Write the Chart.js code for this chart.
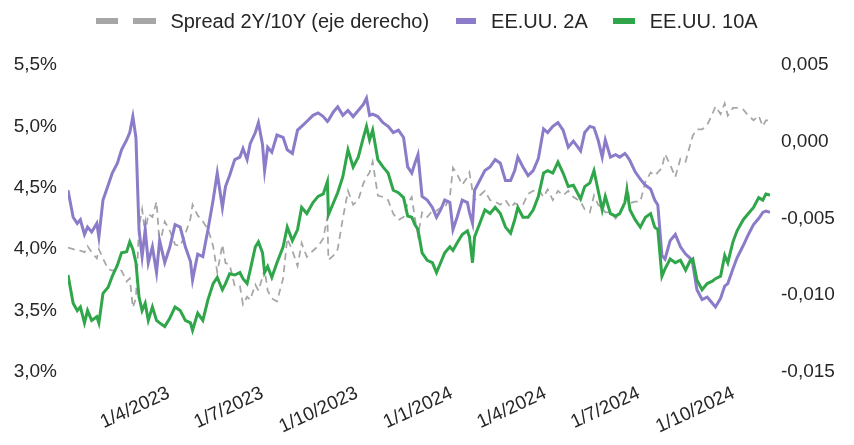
<!DOCTYPE html>
<html>
<head>
<meta charset="utf-8">
<script src="https://cdn.jsdelivr.net/npm/chart.js@4.4.1/dist/chart.umd.min.js"></script>
<style>
  html, body { margin: 0; padding: 0; background: #fff; }
  #wrap { position: relative; width: 854px; height: 445px; }
  #legend {
    position: absolute; top: 8px; left: 0; width: 854px; height: 26px;
    display: flex; justify-content: center; align-items: center;
    font-family: "Liberation Sans", Arial, sans-serif; font-size: 20px; color: #262626;
    white-space: nowrap;
  }
  .sw { display: inline-block; height: 6px; }
  .gap { display: inline-block; }
</style>
</head>
<body>
<div id="wrap">
  <canvas id="chart" width="854" height="445"></canvas>
  <div id="legend">
    <span class="sw" style="width:22px;background:#A6A6A6"></span><span class="gap" style="width:15px"></span>
    <span class="sw" style="width:23px;background:#A6A6A6"></span><span class="gap" style="width:14px"></span>
    <span>Spread 2Y/10Y (eje derecho)</span><span class="gap" style="width:27px"></span>
    <span class="sw" style="width:20px;background:#8B7BC8"></span><span class="gap" style="width:15px"></span>
    <span>EE.UU. 2A</span><span class="gap" style="width:25px"></span>
    <span class="sw" style="width:22px;background:#30A64A"></span><span class="gap" style="width:15px"></span>
    <span>EE.UU. 10A</span>
  </div>
</div>
<script>
// Fechas de las observaciones (lectura aproximada del gráfico)
const dates = [
  '2023-01-03','2023-01-08','2023-01-12','2023-01-15','2023-01-19','2023-01-22','2023-01-26','2023-01-31',
  '2023-02-02','2023-02-06','2023-02-11','2023-02-15','2023-02-20','2023-02-24','2023-03-01','2023-03-04',
  '2023-03-07','2023-03-10','2023-03-13','2023-03-16','2023-03-19','2023-03-22','2023-03-26','2023-03-30',
  '2023-04-02','2023-04-07','2023-04-12','2023-04-17','2023-04-22','2023-04-27','2023-05-02','2023-05-04',
  '2023-05-09','2023-05-14','2023-05-19','2023-05-24','2023-05-28','2023-06-02','2023-06-05','2023-06-09',
  '2023-06-14','2023-06-19','2023-06-22','2023-06-26','2023-06-29','2023-07-04','2023-07-07','2023-07-11',
  '2023-07-13','2023-07-16','2023-07-20','2023-07-25','2023-07-31','2023-08-04','2023-08-09','2023-08-14',
  '2023-08-18','2023-08-23','2023-08-29','2023-09-03','2023-09-08','2023-09-12','2023-09-13','2023-09-18',
  '2023-09-22','2023-09-27','2023-10-02','2023-10-07','2023-10-12','2023-10-17','2023-10-20','2023-10-23',
  '2023-10-26','2023-10-31','2023-11-05','2023-11-10','2023-11-15','2023-11-20','2023-11-25','2023-11-29',
  '2023-12-03','2023-12-06','2023-12-09','2023-12-13','2023-12-18','2023-12-23','2023-12-27','2023-12-31',
  '2024-01-04','2024-01-09','2024-01-12','2024-01-16','2024-01-21','2024-01-26','2024-01-28','2024-01-31',
  '2024-02-02','2024-02-07','2024-02-12','2024-02-17','2024-02-22','2024-02-27','2024-03-03','2024-03-08',
  '2024-03-12','2024-03-15','2024-03-20','2024-03-25','2024-03-30','2024-04-04','2024-04-09','2024-04-13',
  '2024-04-18','2024-04-23','2024-04-28','2024-05-03','2024-05-08','2024-05-15','2024-05-19','2024-05-24',
  '2024-05-28','2024-06-01','2024-06-05','2024-06-08','2024-06-13','2024-06-18','2024-06-22','2024-06-27',
  '2024-06-29','2024-07-02','2024-07-07','2024-07-12','2024-07-17','2024-07-22','2024-07-26','2024-07-29',
  '2024-08-02','2024-08-05','2024-08-10','2024-08-15','2024-08-20','2024-08-25','2024-08-29','2024-09-01',
  '2024-09-05','2024-09-10','2024-09-15','2024-09-20','2024-09-23','2024-09-28','2024-10-02','2024-10-05',
  '2024-10-10','2024-10-14','2024-10-20','2024-10-25','2024-10-30','2024-11-04','2024-11-08','2024-11-11',
  '2024-11-15'
];

// Rendimiento EE.UU. 2 años (%)
const us2y = [
  4.48,4.26,4.21,4.24,4.12,4.18,4.14,4.21,
  4.10,4.40,4.52,4.62,4.70,4.81,4.89,4.95,
  5.08,4.91,4.16,3.94,4.16,3.89,4.02,3.81,
  4.07,3.89,4.02,4.20,4.18,4.02,3.90,3.75,
  3.96,3.94,4.16,4.40,4.62,4.34,4.51,4.60,
  4.73,4.75,4.82,4.73,4.86,4.95,5.03,4.85,
  4.64,4.83,4.79,4.93,4.91,4.81,4.78,4.97,
  5.00,5.04,5.09,5.11,5.08,5.04,5.05,5.12,
  5.16,5.09,5.13,5.08,5.13,5.18,5.23,5.09,
  5.10,5.08,5.03,5.00,4.95,4.97,4.91,4.67,
  4.62,4.70,4.77,4.43,4.40,4.34,4.26,4.32,
  4.40,4.38,4.16,4.26,4.40,4.38,4.30,4.21,
  4.48,4.56,4.64,4.67,4.73,4.70,4.56,4.56,
  4.64,4.75,4.67,4.60,4.64,4.74,4.98,4.95,
  5.00,5.03,4.97,4.83,4.88,4.80,4.95,5.00,
  4.99,4.89,4.75,4.89,4.75,4.77,4.75,4.78,
  4.76,4.72,4.63,4.57,4.52,4.49,4.40,4.36,
  3.95,3.92,4.07,4.12,4.02,3.96,3.93,3.88,
  3.67,3.59,3.61,3.56,3.53,3.60,3.70,3.72,
  3.84,3.93,4.03,4.12,4.20,4.25,4.30,4.31,
  4.30
];

// Rendimiento EE.UU. 10 años (%)
const us10y = [
  3.79,3.56,3.50,3.53,3.40,3.50,3.42,3.45,
  3.40,3.64,3.69,3.78,3.87,3.97,3.98,4.06,
  4.00,3.89,3.61,3.50,3.56,3.42,3.53,3.42,
  3.40,3.37,3.44,3.53,3.50,3.42,3.40,3.34,
  3.48,3.42,3.59,3.72,3.77,3.67,3.72,3.80,
  3.79,3.81,3.76,3.72,3.83,4.02,4.06,3.97,
  3.81,3.86,3.77,3.89,4.02,4.18,4.07,4.16,
  4.34,4.29,4.38,4.43,4.45,4.55,4.28,4.38,
  4.46,4.59,4.81,4.67,4.75,4.91,5.00,4.89,
  4.97,4.73,4.67,4.62,4.48,4.46,4.42,4.27,
  4.26,4.20,4.16,3.97,3.91,3.89,3.81,3.89,
  3.97,4.02,3.99,4.05,4.12,4.15,4.10,3.89,
  4.10,4.21,4.32,4.29,4.34,4.29,4.18,4.13,
  4.24,4.34,4.26,4.26,4.32,4.43,4.62,4.64,
  4.62,4.71,4.62,4.51,4.52,4.41,4.51,4.54,
  4.64,4.48,4.32,4.43,4.29,4.27,4.29,4.38,
  4.48,4.32,4.24,4.18,4.26,4.29,4.18,4.16,
  3.78,3.84,3.92,3.89,3.91,3.83,3.90,3.92,
  3.75,3.67,3.72,3.74,3.76,3.78,3.95,3.89,
  4.06,4.15,4.24,4.29,4.34,4.42,4.40,4.45,
  4.44
];

// Spread 2Y/10Y (eje derecho, en tanto por uno)
const spread = [
  -0.0069,-0.0070,-0.0071,-0.0071,-0.0072,-0.0068,-0.0072,-0.0076,
  -0.0070,-0.0076,-0.0083,-0.0084,-0.0083,-0.0084,-0.0091,-0.0089,
  -0.0108,-0.0102,-0.0055,-0.0044,-0.0060,-0.0047,-0.0049,-0.0039,
  -0.0067,-0.0052,-0.0058,-0.0067,-0.0068,-0.0060,-0.0050,-0.0041,
  -0.0048,-0.0052,-0.0057,-0.0068,-0.0085,-0.0067,-0.0079,-0.0080,
  -0.0094,-0.0094,-0.0106,-0.0101,-0.0103,-0.0093,-0.0097,-0.0088,
  -0.0083,-0.0097,-0.0102,-0.0104,-0.0089,-0.0063,-0.0071,-0.0081,
  -0.0066,-0.0075,-0.0071,-0.0068,-0.0063,-0.0049,-0.0077,-0.0074,
  -0.0070,-0.0050,-0.0032,-0.0041,-0.0038,-0.0027,-0.0023,-0.0020,
  -0.0013,-0.0035,-0.0036,-0.0038,-0.0047,-0.0051,-0.0049,-0.0040,
  -0.0036,-0.0050,-0.0061,-0.0046,-0.0049,-0.0045,-0.0045,-0.0043,
  -0.0043,-0.0036,-0.0017,-0.0021,-0.0028,-0.0023,-0.0020,-0.0032,
  -0.0038,-0.0035,-0.0032,-0.0038,-0.0039,-0.0041,-0.0038,-0.0043,
  -0.0040,-0.0041,-0.0041,-0.0034,-0.0032,-0.0031,-0.0036,-0.0031,
  -0.0038,-0.0032,-0.0035,-0.0032,-0.0036,-0.0039,-0.0044,-0.0046,
  -0.0035,-0.0041,-0.0043,-0.0046,-0.0046,-0.0050,-0.0046,-0.0040,
  -0.0028,-0.0040,-0.0039,-0.0039,-0.0026,-0.0020,-0.0022,-0.0020,
  -0.0017,-0.0008,-0.0015,-0.0023,-0.0011,-0.0013,-0.0003,0.0004,
  0.0008,0.0008,0.0011,0.0018,0.0023,0.0018,0.0025,0.0017,
  0.0022,0.0022,0.0021,0.0017,0.0014,0.0017,0.0010,0.0014,
  0.0014
];

// Marcas del eje X
const xTickDates = ['2023-04-01','2023-07-01','2023-10-01','2024-01-01','2024-04-01','2024-07-01','2024-10-01'];

const DAY = 86400000;
const base = Date.UTC(2023, 0, 1);

function toDay(s) {
  const [y, m, d] = s.split('-').map(Number);
  return Math.round((Date.UTC(y, m - 1, d) - base) / DAY);
}

function dayLabel(v) {
  const d = new Date(base + v * DAY);
  return d.getUTCDate() + '/' + (d.getUTCMonth() + 1) + '/' + d.getUTCFullYear();
}

const days = dates.map(toDay);
const points = (arr) => arr.map((v, i) => ({ x: days[i], y: v }));

const textColor = '#262626';
const tickFont = { family: "'Liberation Sans', Arial, sans-serif", size: 19 };

const ctx = document.getElementById('chart').getContext('2d');

const chart = new Chart(ctx, {
  type: 'line',
  data: {
    datasets: [
      {
        label: 'Spread 2Y/10Y (eje derecho)',
        data: points(spread),
        yAxisID: 'y1',
        borderColor: '#A6A6A6',
        borderWidth: 1.75,
        borderDash: [7, 5],
        pointRadius: 0,
        order: 2
      },
      {
        label: 'EE.UU. 2A',
        data: points(us2y),
        yAxisID: 'y',
        borderColor: '#8B7BC8',
        borderWidth: 3,
        pointRadius: 0,
        order: 1
      },
      {
        label: 'EE.UU. 10A',
        data: points(us10y),
        yAxisID: 'y',
        borderColor: '#30A64A',
        borderWidth: 3,
        pointRadius: 0,
        order: 0
      }
    ]
  },
  options: {
    responsive: false,
    animation: false,
    layout: { padding: { top: 65, left: 0, right: 0, bottom: 0 } },
    plugins: {
      legend: { display: false },
      tooltip: { enabled: false }
    },
    scales: {
      x: {
        type: 'linear',
        min: days[0],
        max: days[days.length - 1],
        grid: { display: false, drawTicks: false },
        border: { display: false },
        afterBuildTicks: (s) => { s.ticks = xTickDates.map((t) => ({ value: toDay(t) })); },
        afterFit: (s) => { s.height = 73; },
        ticks: {
          autoSkip: false,
          minRotation: 25,
          maxRotation: 25,
          padding: 10,
          labelOffset: 10,
          color: textColor,
          font: tickFont,
          callback: (v) => dayLabel(v)
        }
      },
      y: {
        position: 'left',
        min: 3,
        max: 5.5,
        grid: { display: false, drawTicks: false },
        border: { display: false },
        afterFit: (s) => { s.width = 68; },
        ticks: {
          stepSize: 0.5,
          padding: 11,
          color: textColor,
          font: tickFont,
          callback: (v) => v.toFixed(1).replace('.', ',') + '%'
        }
      },
      y1: {
        position: 'right',
        min: -0.015,
        max: 0.005,
        grid: { display: false, drawTicks: false },
        border: { display: false },
        afterFit: (s) => { s.width = 84; },
        ticks: {
          stepSize: 0.005,
          padding: 11,
          color: textColor,
          font: tickFont,
          callback: (v) => v.toFixed(3).replace('.', ',')
        }
      }
    }
  }
});
</script>
</body>
</html>
